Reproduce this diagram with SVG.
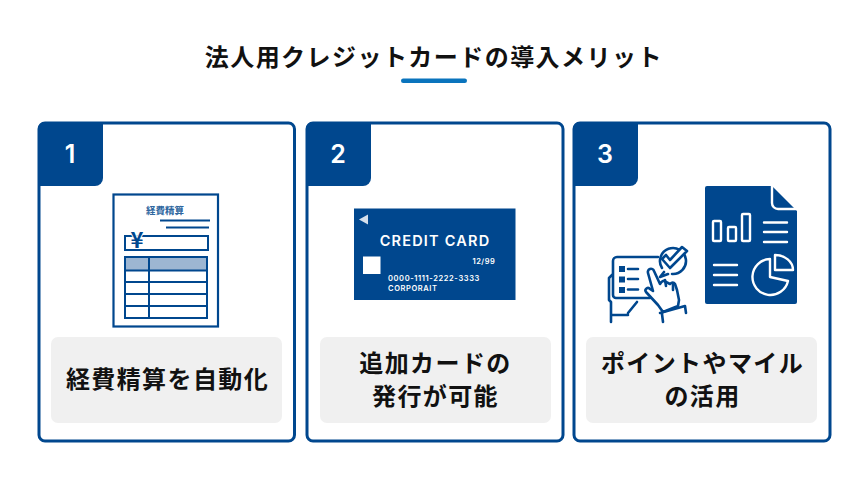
<svg xmlns="http://www.w3.org/2000/svg" width="867" height="495" viewBox="0 0 867 495">
<style>
text{font-family:"Noto Sans CJK JP","Noto Sans",sans-serif;}
.card{fill:#fff;stroke:#00478e;stroke-width:3}
.tab{fill:#00478e}
.num{font-family:Inter,"Noto Sans",sans-serif;font-size:25px;font-weight:600;fill:#fff;text-anchor:middle}
.lab{fill:#f0f0f0}
.t{font-size:24px;font-weight:700;fill:#111;text-anchor:middle;letter-spacing:1.4px}
.ln{fill:none;stroke:#00478e;stroke-width:2}
.ic{fill:none;stroke:#00478e;stroke-width:2.6;stroke-linecap:round;stroke-linejoin:round}
.wh{fill:none;stroke:#fff;stroke-width:2.4;stroke-linecap:round;stroke-linejoin:round}
.ct{font-family:Inter,"Noto Sans",sans-serif;fill:#fff;font-weight:600}
</style>
<rect width="867" height="495" fill="#fff"/>
<g id="title">
<text x="433.800" y="66" text-anchor="middle" font-size="24" font-weight="700" fill="#111" letter-spacing="1.45">法人用クレジットカードの導入メリット</text>
<rect x="401" y="78.500" width="66" height="4.500" rx="2.200" fill="#0a74bd"/>
</g>
<g id="node1">
<rect class="card" x="39" y="123" width="255.500" height="318" rx="6"/>
<path class="tab" d="M38 129a7 7 0 0 1 7-7H103V178a8 8 0 0 1-8 8H38Z"/>
<text class="num" x="70" y="163">1</text>
<rect class="lab" x="51" y="337" width="231" height="86" rx="7"/>
<text class="t" x="167.500" y="388">経費精算を自動化</text>
<g id="receipt">
<rect x="113.500" y="194.500" width="104.500" height="132" fill="#fff" stroke="#00478e" stroke-width="2.200"/>
<text x="165" y="213.500" font-size="9.500" font-weight="700" fill="#2f679f" text-anchor="middle">経費精算</text>
<path class="ln" d="M160 220.500H210M166 227.500H209"/>
<rect class="ln" x="125" y="236" width="83" height="14"/>
<text x="137" y="248" font-family="Inter,sans-serif" font-size="22" font-weight="700" fill="#00478e" stroke="#fff" stroke-width="2" paint-order="stroke" text-anchor="middle">¥</text>
<rect x="125" y="257" width="82" height="13" fill="#9db6d2"/>
<rect class="ln" x="125" y="257" width="82" height="61"/>
<path class="ln" d="M125 270.500H207M125 282H207M125 294H207M125 306H207M149 257V318"/>
</g>
</g>
<g id="node2">
<rect class="card" x="307" y="123" width="256" height="318" rx="6"/>
<path class="tab" d="M306 129a7 7 0 0 1 7-7H371V178a8 8 0 0 1-8 8H306Z"/>
<text class="num" x="338" y="163">2</text>
<rect class="lab" x="320" y="337" width="231" height="86" rx="7"/>
<text class="t" x="435.500" y="372">追加カードの</text>
<text class="t" x="435.500" y="405">発行が可能</text>
<g id="credit-card">
<rect x="354" y="208.500" width="161.500" height="91.500" fill="#00478e"/>
<path d="M359 219.500L368 214.500V224.500Z" fill="#d5e0ec"/>
<text class="ct" x="435" y="245.500" font-size="14.500" text-anchor="middle" letter-spacing="1.200">CREDIT CARD</text>
<text class="ct" x="472.500" y="264" font-size="7.500" font-weight="500" letter-spacing=".5">12/99</text>
<rect x="363" y="256.500" width="17.500" height="17.500" fill="#fff"/>
<text class="ct" x="388" y="281" font-size="7.500" font-weight="500" letter-spacing=".6">0000-1111-2222-3333</text>
<text class="ct" x="388" y="291" font-size="7.500" font-weight="500" letter-spacing=".6">CORPORAIT</text>
</g>
</g>
<g id="node3">
<rect class="card" x="574" y="123" width="256" height="318" rx="6"/>
<path class="tab" d="M573 129a7 7 0 0 1 7-7H638V178a8 8 0 0 1-8 8H573Z"/>
<text class="num" x="605" y="163">3</text>
<rect class="lab" x="586" y="337" width="231" height="86" rx="7"/>
<text class="t" x="702.500" y="372">ポイントやマイル</text>
<text class="t" x="702.500" y="405">の活用</text>
<g id="report">
<path d="M707 186H772L797 211V302a2 2 0 0 1-2 2H707a2 2 0 0 1-2-2V188a2 2 0 0 1 2-2Z" fill="#00478e"/>
<path d="M772 186V203a6 6 0 0 0 6 6H797" fill="none" stroke="#fff" stroke-width="2.400"/>
<rect class="wh" x="713" y="221" width="8" height="20" rx="1"/>
<rect class="wh" x="728" y="227" width="8" height="14" rx="1"/>
<rect class="wh" x="742" y="214" width="8" height="27" rx="1"/>
<path class="wh" d="M764 222.500H787M764 232H787M764 242H787M714 265H737M714 275H737M714 285H737"/>
<path class="wh" d="M770 259V277L788 281A18 18 0 1 1 770 259Z"/>
<path class="wh" d="M775 255V270H793A18 15 0 0 0 775 255Z"/>
</g>
<g id="tablet">
<path class="ic" d="M658 257H617a4 4 0 0 0-4 4V295a3 3 0 0 0 3 3H650"/>
<path class="ic" d="M612 275L609 278V300L611 302V322M612 315H628M628 313L637 302"/>
<rect x="619" y="266" width="6" height="6" fill="#00478e"/>
<rect x="619" y="276.500" width="6" height="6" fill="#00478e"/>
<rect x="619" y="287" width="6" height="6" fill="#00478e"/>
<path class="ic" d="M628 269H638M628 279H638M628 289.500H638"/>
<path class="ic" d="M662 268A13 13 0 1 1 672 274M664 272L660 277L668 274"/>
<path class="ic" style="fill:#fff" d="M662 259L666 255L670 260L682 247L687 251L670 268Z"/>
<path class="ic" style="fill:#fff" d="M653 291L648 273a3 3 0 0 1 6-2L660 284Q663 279 666 282L670 284Q673 281 675 284L677 290L679 300L678 306L663 312L658 305L646 292a2.500 2.500 0 0 1 4-3L653 291"/>
<path class="ic" d="M665 280L666 286M673 284L673 290M660 313L685 306M663 322L662 314M686 313L685 306"/>
</g>
</g>
</svg>
